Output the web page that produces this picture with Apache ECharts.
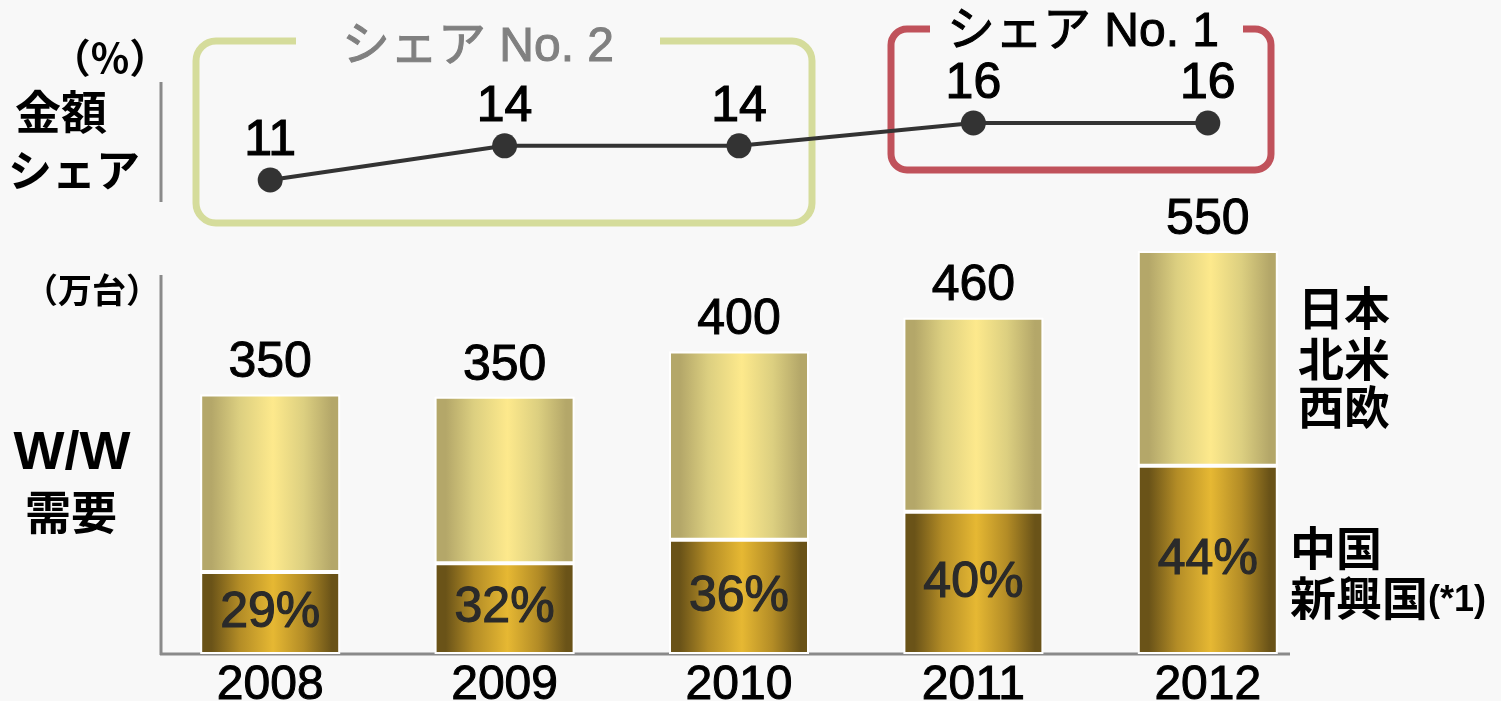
<!DOCTYPE html>
<html>
<head>
<meta charset="utf-8">
<script src="https://cdn.jsdelivr.net/npm/echarts@6/dist/echarts.min.js"></script>
<style>
html,body{margin:0;padding:0;background:#f8f8f8;}
#c{width:1501px;height:701px;}
</style>
</head>
<body>
<div id="c"></div>
<script>
// ---- data ----
var years = ['2008', '2009', '2010', '2011', '2012'];
var shareValues = [11, 14, 14, 16, 16];              // 金額シェア (%)
var emergingValues = [112, 124, 156, 194, 257];      // 中国・新興国 (万台)
var matureValues = [242, 227, 257, 265, 293];        // 日本・北米・西欧 (万台)
var totalLabels = ['350', '350', '400', '460', '550'];
var emergingShareLabels = ['29%', '32%', '36%', '40%', '44%'];

var LATIN = "'Liberation Sans', Arial, 'Noto Sans CJK JP', sans-serif";
var CJK = "'Noto Sans CJK JP', 'Liberation Sans', sans-serif";

function grad(edge, mid, center) {
  return new echarts.graphic.LinearGradient(0, 0, 1, 0, [
    {offset: 0, color: edge},
    {offset: 0.08, color: edge},
    {offset: 0.28, color: mid},
    {offset: 0.52, color: center},
    {offset: 0.74, color: mid},
    {offset: 0.94, color: edge},
    {offset: 1, color: edge}
  ]);
}

var chart = echarts.init(document.getElementById('c'), null, {renderer: 'canvas'});

var option = {
  backgroundColor: '#f8f8f8',
  animation: false,
  grid: [
    {left: 153, right: 176, top: 251, bottom: 47, containLabel: false, outerBoundsMode: 'none'},
    {left: 153, right: 176, top: 77.4, bottom: 464, containLabel: false, outerBoundsMode: 'none'}
  ],
  xAxis: [
    {
      type: 'category', gridIndex: 0, data: years,
      axisLine: {show: false}, axisTick: {show: false},
      axisLabel: {fontSize: 48, color: '#000', fontFamily: LATIN, margin: 8,
        textBorderColor: '#000', textBorderWidth: 1}
    },
    {
      type: 'category', gridIndex: 1, data: years,
      axisLine: {show: false}, axisTick: {show: false}, axisLabel: {show: false}
    }
  ],
  yAxis: [
    {
      type: 'value', gridIndex: 0, min: 0, max: 550,
      axisLine: {show: false}, axisTick: {show: false}, axisLabel: {show: false},
      splitLine: {show: false}
    },
    {
      type: 'value', gridIndex: 1, min: 6, max: 20,
      axisLine: {show: false}, axisTick: {show: false}, axisLabel: {show: false},
      splitLine: {show: false}
    }
  ],
  series: [
    {
      name: '中国・新興国', type: 'bar', stack: 'd', xAxisIndex: 0, yAxisIndex: 0,
      barWidth: 140, data: emergingValues,
      itemStyle: {color: grad('#6a5318', '#b38c26', '#e6b833'), borderColor: '#ffffff', borderWidth: 2},
      label: {
        show: true, position: 'inside', fontSize: 50, color: '#2a2a2a', fontFamily: LATIN,
        textBorderColor: '#2a2a2a', textBorderWidth: 1.2,
        formatter: function (p) { return emergingShareLabels[p.dataIndex]; }
      }
    },
    {
      name: '日本・北米・西欧', type: 'bar', stack: 'd', xAxisIndex: 0, yAxisIndex: 0,
      barWidth: 140, data: matureValues,
      itemStyle: {color: grad('#b4a769', '#dccf80', '#fde98c'), borderColor: '#ffffff', borderWidth: 2},
      label: {
        show: true, position: 'top', distance: 6, fontSize: 50, color: '#000', fontFamily: LATIN,
        textBorderColor: '#000', textBorderWidth: 1,
        formatter: function (p) { return totalLabels[p.dataIndex]; }
      }
    },
    {
      name: '金額シェア', type: 'line', xAxisIndex: 1, yAxisIndex: 1, z: 5,
      data: shareValues, symbol: 'circle', symbolSize: 25,
      itemStyle: {color: '#333333'},
      lineStyle: {color: '#333333', width: 4},
      label: {show: true, position: 'top', distance: 1, fontSize: 50, color: '#000', fontFamily: LATIN,
        textBorderColor: '#000', textBorderWidth: 1.2}
    }
  ],
  graphic: [
    // axis lines
    {type: 'line', z: 1, shape: {x1: 161, y1: 82, x2: 161, y2: 202}, style: {stroke: '#8a8a8a', lineWidth: 3}},
    {type: 'line', z: 1, shape: {x1: 161, y1: 275, x2: 161, y2: 655}, style: {stroke: '#8a8a8a', lineWidth: 3}},
    {type: 'line', z: 1, shape: {x1: 160, y1: 654, x2: 1290, y2: 654}, style: {stroke: '#8a8a8a', lineWidth: 3}},
    // share boxes
    {type: 'rect', z: 0, shape: {x: 196, y: 41, width: 616, height: 182, r: 20},
      style: {fill: null, stroke: '#d5dc9b', lineWidth: 7}},
    {type: 'rect', z: 0, shape: {x: 296, y: 28, width: 364, height: 26}, style: {fill: '#f8f8f8'}},
    {type: 'text', z: 1, x: 478, y: 48,
      style: {text: 'シェア No. 2', fontSize: 48, fontFamily: LATIN, fill: '#808080', stroke: '#808080', lineWidth: 1, align: 'center', verticalAlign: 'middle'}},
    {type: 'rect', z: 0, shape: {x: 891, y: 29, width: 380, height: 141, r: 16},
      style: {fill: null, stroke: '#c0525b', lineWidth: 7}},
    {type: 'rect', z: 0, shape: {x: 930, y: 16, width: 313, height: 26}, style: {fill: '#f8f8f8'}},
    {type: 'text', z: 1, x: 1083, y: 33,
      style: {text: 'シェア No. 1', fontSize: 48, fontFamily: LATIN, fill: '#000', stroke: '#000', lineWidth: 1, align: 'center', verticalAlign: 'middle'}},
    // left titles
    {type: 'text', x: 110, y: 58, style: {text: '（%）', fontSize: 40, fontWeight: 'bold', fontFamily: CJK, fill: '#000', align: 'center', verticalAlign: 'middle'}},
    {type: 'text', x: 61, y: 112, style: {text: '金額', fontSize: 46, fontWeight: 'bold', fontFamily: CJK, fill: '#000', align: 'center', verticalAlign: 'middle'}},
    {type: 'text', x: 74, y: 170, style: {text: 'シェア', fontSize: 44, fontWeight: 'bold', fontFamily: CJK, fill: '#000', align: 'center', verticalAlign: 'middle'}},
    {type: 'text', x: 92, y: 290, style: {text: '（万台）', fontSize: 34, fontWeight: 'bold', fontFamily: CJK, fill: '#000', align: 'center', verticalAlign: 'middle'}},
    {type: 'text', x: 72, y: 454, style: {text: 'W/W', fontSize: 54, fontWeight: 'bold', fontFamily: LATIN, fill: '#000', align: 'center', verticalAlign: 'middle'}},
    {type: 'text', x: 71, y: 512, style: {text: '需要', fontSize: 46, fontWeight: 'bold', fontFamily: CJK, fill: '#000', align: 'center', verticalAlign: 'middle'}},
    // right legend labels
    {type: 'text', x: 1298, y: 308, style: {text: '日本', fontSize: 46, fontWeight: 'bold', fontFamily: CJK, fill: '#000', align: 'left', verticalAlign: 'middle'}},
    {type: 'text', x: 1298, y: 359, style: {text: '北米', fontSize: 46, fontWeight: 'bold', fontFamily: CJK, fill: '#000', align: 'left', verticalAlign: 'middle'}},
    {type: 'text', x: 1298, y: 407, style: {text: '西欧', fontSize: 46, fontWeight: 'bold', fontFamily: CJK, fill: '#000', align: 'left', verticalAlign: 'middle'}},
    {type: 'text', x: 1290, y: 548, style: {text: '中国', fontSize: 46, fontWeight: 'bold', fontFamily: CJK, fill: '#000', align: 'left', verticalAlign: 'middle'}},
    {type: 'text', x: 1290, y: 598, style: {
      text: '{a|新興国}{b|(*1)}', align: 'left', verticalAlign: 'middle',
      rich: {
        a: {fontSize: 46, fontWeight: 'bold', fontFamily: CJK, fill: '#000', color: '#000'},
        b: {fontSize: 36, fontWeight: 'bold', fontFamily: LATIN, fill: '#000', color: '#000', padding: [6, 0, 0, 0]}
      }
    }}
  ]
};

chart.setOption(option);
</script>
</body>
</html>
